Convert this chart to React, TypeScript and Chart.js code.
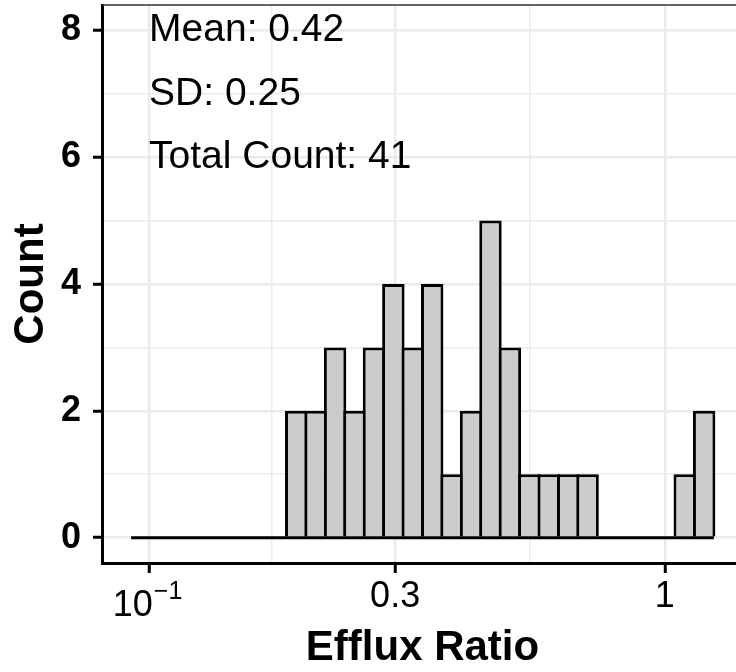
import { useEffect, useRef } from "react";
import { Chart, registerables } from "chart.js";

Chart.register(...registerables);

// Histogram of efflux ratios: 30 equal-width bins on a log10 axis
const binLow = 0.0923; // left edge of the first bin (ratio units)
const binHigh = 1.245; // right edge of the last bin (ratio units)
const counts = [
  0, 0, 0, 0, 0, 0, 0, 0,
  2, 2, 3, 2, 3, 4, 3, 4, 1, 2, 5, 3, 1, 1, 1, 1,
  0, 0, 0, 0,
  1, 2,
];

const xTickValues = [0.1, 0.3, 1];
const xTickLabels = ["10^-1", "0.3", "1"];
const yTickValues = [0, 2, 4, 6, 8];
const yLimits = [-0.4, 8.4];

const statLabels = ["Mean: 0.42", "SD: 0.25", "Total Count: 41"];
const statLevels = [8, 7, 6];
const statAnchor = 0.1;

const FONT = "'Liberation Sans', Arial, Helvetica, sans-serif";
const BAR_LINE = 3;

const logLow = Math.log10(binLow);
const logHigh = Math.log10(binHigh);
const binWidth = (logHigh - logLow) / counts.length;
const expand = (logHigh - logLow) * 0.05;

const majorLog = xTickValues.map((v) => Math.log10(v));
const minorLog = majorLog.slice(1).map((v, i) => (v + majorLog[i]) / 2);

const barData = counts.map((c, i) => ({ x: logLow + (i + 0.5) * binWidth, y: c }));

const isMajorX = (v: number) => majorLog.some((m) => Math.abs(m - v) < 1e-9);

const zeroPadding = (s: any) => {
  s.paddingTop = 0;
  s.paddingBottom = 0;
  s.paddingLeft = 0;
  s.paddingRight = 0;
};

const overlayPlugin = {
  id: "panelOverlay",
  afterDraw(chart: any) {
    const { ctx, chartArea, scales } = chart;
    const xs = scales.x;
    const ys = scales.y;
    ctx.save();

    // panel border on the top and right sides
    ctx.strokeStyle = "#333333";
    ctx.lineWidth = 1.5;
    ctx.beginPath();
    ctx.moveTo(chartArea.left, chartArea.top);
    ctx.lineTo(chartArea.right, chartArea.top);
    ctx.lineTo(chartArea.right, chartArea.bottom);
    ctx.stroke();

    // summary statistics
    ctx.fillStyle = "#000000";
    ctx.font = `39px ${FONT}`;
    ctx.textAlign = "left";
    ctx.textBaseline = "middle";
    const sx = xs.getPixelForValue(Math.log10(statAnchor));
    statLabels.forEach((t, i) => {
      ctx.fillText(t, sx, ys.getPixelForValue(statLevels[i]));
    });

    // power-of-ten tick label: base with raised exponent
    const [base, exp] = xTickLabels[0].split("^");
    const expText = exp.replace("-", "\u2212");
    const px = xs.getPixelForValue(majorLog[0]);
    ctx.font = `36px ${FONT}`;
    const bw = ctx.measureText(base).width;
    ctx.font = `25px ${FONT}`;
    const ew = ctx.measureText(expText).width;
    const startX = px - (bw + ew) / 2 - 2;
    ctx.textBaseline = "alphabetic";
    ctx.font = `36px ${FONT}`;
    ctx.fillText(base, startX, xs.top + 53);
    ctx.font = `25px ${FONT}`;
    ctx.fillText(expText, startX + bw + 1, xs.top + 36);

    ctx.restore();
  },
};

export default function App() {
  const ref = useRef<HTMLCanvasElement | null>(null);

  useEffect(() => {
    if (!ref.current) return;
    const chart = new Chart(ref.current, {
      type: "bar",
      data: {
        datasets: [
          {
            type: "line",
            data: [
              { x: logLow, y: 0 },
              { x: logHigh, y: 0 },
            ],
            borderColor: "#000000",
            borderWidth: BAR_LINE,
            pointRadius: 0,
            order: 0,
          } as any,
          {
            type: "bar",
            data: barData,
            backgroundColor: "#cccccc",
            borderColor: "#000000",
            borderWidth: BAR_LINE,
            borderSkipped: "start",
            categoryPercentage: 1,
            barPercentage: 1.155,
            order: 1,
          } as any,
        ],
      },
      options: {
        animation: false,
        responsive: true,
        maintainAspectRatio: false,
        events: [],
        layout: { padding: { top: 5, right: 7, left: 0, bottom: 0 } },
        plugins: {
          legend: { display: false },
          tooltip: { enabled: false },
        },
        scales: {
          x: {
            type: "linear",
            min: logLow - expand,
            max: logHigh + expand,
            offset: false,
            afterBuildTicks: (s: any) => {
              s.ticks = [...majorLog, ...minorLog].map((v) => ({ value: v }));
            },
            afterFit: (s: any) => {
              s.height = 109;
              zeroPadding(s);
            },
            ticks: {
              autoSkip: false,
              maxRotation: 0,
              padding: 2,
              color: "#000000",
              font: { family: FONT, size: 36 },
              callback: (v: any) => {
                const i = majorLog.findIndex((m) => Math.abs(m - v) < 1e-9);
                if (i <= 0) return "";
                return xTickLabels[i];
              },
            },
            grid: {
              offset: false,
              color: "#ebebeb",
              lineWidth: (c: any) => (isMajorX(c.tick.value) ? 2.5 : 1.5),
              tickLength: 10,
              tickWidth: 3,
              tickColor: (c: any) => (isMajorX(c.tick.value) ? "#000000" : "rgba(0,0,0,0)"),
            },
            border: { display: true, color: "#000000", width: 3 },
            title: {
              display: true,
              text: "Efflux Ratio",
              color: "#000000",
              font: { family: FONT, size: 42, weight: "bold", lineHeight: 1 },
              padding: { top: 0, bottom: 3 },
            },
          },
          y: {
            type: "linear",
            min: yLimits[0],
            max: yLimits[1],
            afterBuildTicks: (s: any) => {
              const t = [];
              for (let v = yTickValues[0]; v <= yTickValues[yTickValues.length - 1]; v += 1) t.push({ value: v });
              s.ticks = t;
            },
            afterFit: (s: any) => {
              s.width = 102;
              zeroPadding(s);
            },
            ticks: {
              autoSkip: false,
              padding: 12,
              color: "#000000",
              font: { family: FONT, size: 36, weight: "bold" },
              callback: (v: any) => (yTickValues.includes(v) ? String(v) : ""),
            },
            grid: {
              color: "#ebebeb",
              lineWidth: (c: any) => (yTickValues.includes(c.tick.value) ? 2.5 : 1.5),
              tickLength: 9,
              tickWidth: 3,
              tickColor: (c: any) => (yTickValues.includes(c.tick.value) ? "#000000" : "rgba(0,0,0,0)"),
            },
            border: { display: true, color: "#000000", width: 3 },
            title: {
              display: true,
              text: "Count",
              color: "#000000",
              font: { family: FONT, size: 42, weight: "bold", lineHeight: 1 },
              padding: { top: 10, bottom: 0 },
            },
          },
        },
      },
      plugins: [overlayPlugin],
    });
    return () => chart.destroy();
  }, []);

  return (
    <div
      style={{
        position: "fixed",
        left: 0,
        top: 0,
        width: 736,
        height: 672,
        overflow: "hidden",
        background: "#ffffff",
      }}
    >
      <div style={{ position: "relative", width: 750, height: 672 }}>
        <canvas ref={ref} />
      </div>
    </div>
  );
}
